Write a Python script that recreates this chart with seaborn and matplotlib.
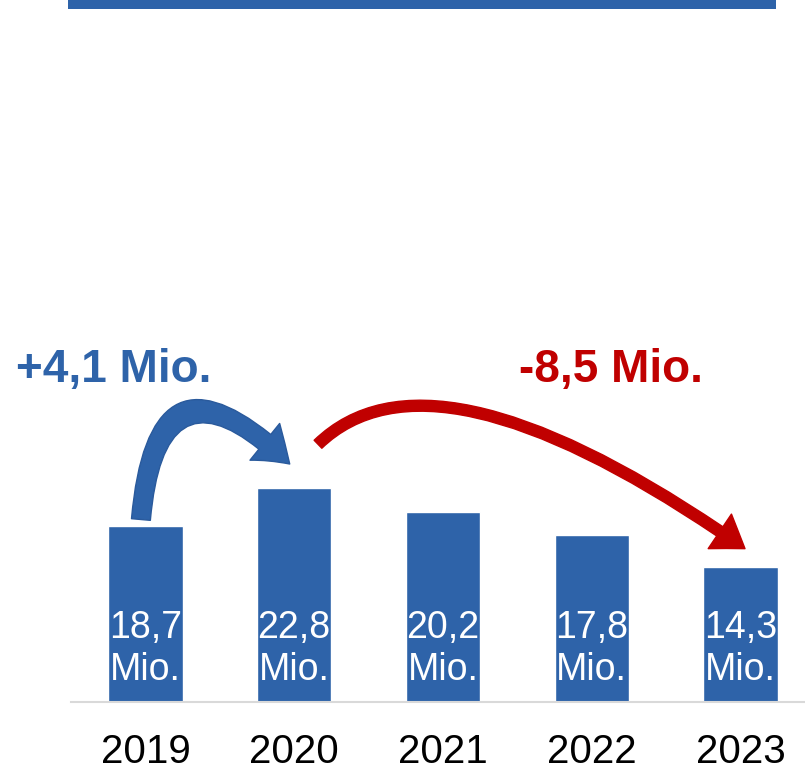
import seaborn as sns
import pandas as pd
import matplotlib.pyplot as plt
from matplotlib.patches import Rectangle

years = ["2019", "2020", "2021", "2022", "2023"]
values = [18.7, 22.8, 20.2, 17.8, 14.3]
up_label = "+4,1 Mio."
down_label = "-8,5 Mio."

BLUE = "#2e63a9"
DARK_BLUE = "#2a5a9c"
RED = "#c00000"

sns.set_theme(style="white")
plt.rcParams['font.family'] = ['Liberation Sans', 'DejaVu Sans']

df = pd.DataFrame(dict(year=years, value=values))

fig = plt.figure(figsize=(8.05, 7.7), dpi=100)
ax = fig.add_axes([71 / 805, 68 / 770, 735 / 805, 682 / 770])

sns.barplot(data=df, x="year", y="value", color=BLUE, saturation=1, width=0.5, ax=ax)

ax.set_xlim(-0.5, 4.44)
ax.set_ylim(0, 72.5)
ax.set_xlabel('')
ax.set_ylabel('')
ax.set_yticks([])
ax.tick_params(axis='x', length=0, pad=22, labelsize=29, labelcolor='black')
for s in ['top', 'right', 'left']:
    ax.spines[s].set_visible(False)
ax.spines['bottom'].set_color('#d9d9d9')
ax.spines['bottom'].set_linewidth(1.5)

# value labels inside the bars
for i, v in enumerate(values):
    ax.text(i, 5.6, "{}\nMio.".format(str(v).replace('.', ',')), ha='center', va='center',
            color='white', fontsize=27, linespacing=1.22)

# blue arrow 2019 -> 2020
ax.annotate("", xy=(0.97, 25.3), xytext=(-0.03, 19.4), textcoords='data',
            arrowprops=dict(arrowstyle="simple,head_length=0.6,head_width=0.85,tail_width=0.34",
                            connectionstyle="arc3,rad=-1.05", color=BLUE, ec=DARK_BLUE,
                            mutation_scale=40, shrinkA=0, shrinkB=0), annotation_clip=False)

# red arrow 2020 -> 2023
ax.annotate("", xy=(4.03, 16.3), xytext=(1.16, 27.4), textcoords='data',
            arrowprops=dict(arrowstyle="simple,head_length=0.55,head_width=0.75,tail_width=0.2",
                            connectionstyle="angle3,angleA=44,angleB=145", color=RED, ec=RED,
                            mutation_scale=40, shrinkA=0, shrinkB=0), annotation_clip=False)

ax.text(-0.215, 35.3, up_label, ha='center', va='center', color=BLUE,
        fontsize=33, fontweight='bold')
ax.text(3.13, 35.3, down_label, ha='center', va='center', color=RED,
        fontsize=33, fontweight='bold')

# header band
fig.add_artist(Rectangle((68 / 805, 1 - 9 / 770), 708 / 805, 9 / 770,
                         transform=fig.transFigure, color=BLUE, lw=0))

plt.savefig("out.png", dpi=100)
